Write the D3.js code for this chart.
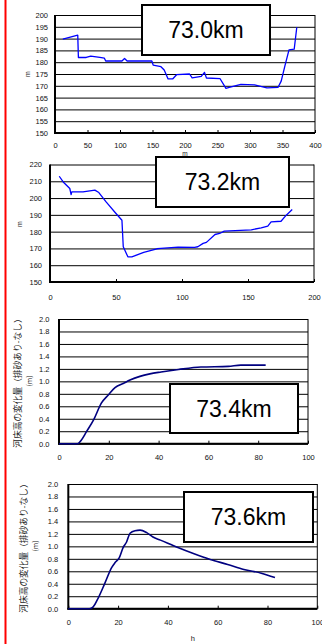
<!DOCTYPE html>
<html>
<head>
<meta charset="utf-8">
<script src="https://cdn.jsdelivr.net/npm/d3@7"></script>
<style>
  html, body { margin: 0; padding: 0; background: #fff; }
  svg { display: block; }
  .tick text { font-family: "Liberation Sans", Arial, sans-serif; font-size: 7.5px; fill: #111; }
</style>
</head>
<body>
<svg id="chart" width="322" height="644"></svg>
<script>
// Cross-section at 73.0 km (distance m, elevation m)
const dist730 = [12, 35, 36, 48, 55, 69, 76, 78, 103, 107, 111, 149, 151, 163, 168, 174, 181, 187, 207, 211, 225, 230, 233, 254, 263, 268, 286, 307, 326, 343, 348, 354, 360, 368, 372];
const elev730 = [189.8, 191.5, 182, 182, 182.6, 182, 181.7, 180.5, 180.5, 181.6, 180.5, 180.5, 178.8, 178.1, 176.7, 172.9, 172.9, 174.7, 175, 173.4, 174, 175.7, 173.3, 173, 168.9, 169.3, 170.6, 170.4, 169.1, 169.3, 172, 178.8, 185.2, 185.5, 194.8];

// Cross-section at 73.2 km
const dist732 = [7, 10, 15, 16, 16.5, 25, 34, 37, 42.5, 50, 54.5, 55.5, 59, 62, 71, 81, 84, 97, 109.5, 112, 116, 118.5, 125, 128.5, 132, 152.5, 160, 165, 167.5, 175, 179, 183.5];
const elev732 = [213, 209.6, 205.7, 202.1, 203.7, 203.7, 204.7, 203.3, 197.7, 190.8, 186.8, 171, 165, 165, 167.6, 169.8, 170, 170.8, 170.6, 171, 173, 173.6, 178.3, 178.9, 180.3, 181.1, 182.3, 183.3, 185.8, 186.2, 189.8, 193.2];

// Bed change (with minus without sediment flushing) over time, 73.4 km
const hours734 = [0, 7.5, 9, 11, 14, 17, 20, 22.5, 26, 28.5, 32.5, 36.5, 41, 48, 57, 68, 73, 83];
const change734 = [0, 0, 0.06, 0.19, 0.39, 0.65, 0.79, 0.90, 0.97, 1.02, 1.08, 1.12, 1.15, 1.19, 1.23, 1.24, 1.26, 1.26];

// Bed change over time, 73.6 km
const hours736 = [0, 8.5, 10, 12, 14.7, 17.4, 18.8, 20.5, 22, 23.4, 24.8, 26.8, 28.8, 31.5, 34, 37, 44, 50.5, 57, 64, 70.5, 77.5, 83];
const change736 = [0, 0, 0.03, 0.17, 0.41, 0.66, 0.74, 0.82, 0.98, 1.07, 1.21, 1.25, 1.26, 1.22, 1.15, 1.10, 0.98, 0.88, 0.79, 0.71, 0.63, 0.57, 0.50];

// Axis ticks
const xTicks730 = [0, 50, 100, 150, 200, 250, 300, 350, 400];
const yTicks730 = [150, 155, 160, 165, 170, 175, 180, 185, 190, 195, 200];
const xTicks732 = [0, 50, 100, 150, 200];
const yTicks732 = [150, 160, 170, 180, 190, 200, 210, 220];
const xTicksHours = [0, 20, 40, 60, 80, 100];
const yTicksChange = [0, 0.2, 0.4, 0.6, 0.8, 1.0, 1.2, 1.4, 1.6, 1.8, 2.0];

// Section labels
const sectionNames = ["73.0km", "73.2km", "73.4km", "73.6km"];
const changeTitle = "河床高の変化量（排砂あり-なし）";

const svg = d3.select("#chart");
const latin = "'Liberation Sans', Arial, sans-serif";
const cjk = "'Noto Sans CJK JP', sans-serif";

// Red margin rule on the left
svg.append("line").attr("x1", 5.5).attr("x2", 5.5).attr("y1", 0).attr("y2", 644)
  .attr("stroke", "#ff0000").attr("stroke-width", 2);

function panel(cfg) {
  const x = d3.scaleLinear().domain([cfg.xTicks[0], cfg.xTicks[cfg.xTicks.length - 1]]).range([cfg.L, cfg.R]);
  const y = d3.scaleLinear().domain([cfg.yTicks[0], cfg.yTicks[cfg.yTicks.length - 1]]).range([cfg.B, cfg.T]);
  const g = svg.append("g");

  // horizontal grid + y labels
  const ya = g.append("g").attr("transform", `translate(${cfg.L},0)`)
    .call(d3.axisLeft(y).tickValues(cfg.yTicks).tickSize(-(cfg.R - cfg.L)).tickPadding(cfg.yPad).tickFormat(cfg.yFmt));
  ya.select(".domain").remove();
  ya.selectAll(".tick line").attr("stroke", "#000").attr("stroke-width", 1);

  // x ticks (pointing up) + labels
  const xa = g.append("g").attr("transform", `translate(0,${cfg.B})`)
    .call(d3.axisBottom(x).tickValues(cfg.xTicks).tickSize(-3).tickPadding(cfg.xPad).tickFormat(d3.format("d")));
  xa.select(".domain").remove();
  xa.selectAll(".tick line").attr("stroke", "#000");
  xa.selectAll(".tick text").attr("dy", "0.71em");

  // frame
  g.append("line").attr("x1", cfg.R).attr("x2", cfg.R).attr("y1", cfg.T).attr("y2", cfg.B).attr("stroke", "#000").attr("stroke-width", 1);
  g.append("line").attr("x1", cfg.L).attr("x2", cfg.L).attr("y1", cfg.T).attr("y2", cfg.B + 1).attr("stroke", "#000").attr("stroke-width", 2);
  g.append("line").attr("x1", cfg.L - 1).attr("x2", cfg.R).attr("y1", cfg.B).attr("y2", cfg.B).attr("stroke", "#000").attr("stroke-width", 2);

  // series
  const pts = cfg.xs.map((v, i) => [v, cfg.ys[i]]);
  g.append("path").datum(pts)
    .attr("fill", "none").attr("stroke", cfg.color).attr("stroke-width", cfg.width)
    .attr("stroke-linejoin", "round")
    .attr("d", d3.line().x(d => x(d[0])).y(d => y(d[1])).curve(cfg.curve || d3.curveLinear));

  // section label box
  const [bx0, by0, bx1, by1] = cfg.box;
  g.append("rect").attr("x", bx0).attr("y", by0).attr("width", bx1 - bx0).attr("height", by1 - by0)
    .attr("fill", "#fff").attr("stroke", "#000").attr("stroke-width", 2);
  g.append("text").attr("x", (bx0 + bx1) / 2).attr("y", (by0 + by1) / 2 + 8.3)
    .attr("text-anchor", "middle").attr("font-family", latin).attr("font-size", 23).attr("fill", "#000")
    .text(cfg.name);

  // axis titles
  (cfg.yTitles || []).forEach(t => {
    g.append("text").attr("transform", `translate(${t.x},${t.y}) rotate(-90)`)
      .attr("text-anchor", "middle").attr("dominant-baseline", "central")
      .attr("font-family", t.font).attr("font-size", t.size).attr("fill", "#222").text(t.text);
  });
  if (cfg.xTitle) {
    g.append("text").attr("x", (cfg.L + cfg.R) / 2).attr("y", cfg.xTitle.y)
      .attr("text-anchor", "middle").attr("font-family", latin).attr("font-size", cfg.xTitle.size).attr("fill", "#222")
      .text(cfg.xTitle.text);
  }
}

panel({
  L: 55, R: 315, T: 15, B: 133, xTicks: xTicks730, yTicks: yTicks730,
  yFmt: d3.format("d"), yPad: 7, xPad: 10,
  xs: dist730, ys: elev730, color: "#0000ff", width: 1.3,
  box: [142, 5, 270, 55], name: sectionNames[0],
  yTitles: [{ x: 27, y: 74, text: "m", font: latin, size: 7 }],
  xTitle: { y: 155.5, text: "m", size: 6.5 }
});

panel({
  L: 50, R: 314, T: 164.5, B: 282, xTicks: xTicks732, yTicks: yTicks732,
  yFmt: d3.format("d"), yPad: 8, xPad: 12.4,
  xs: dist732, ys: elev732, color: "#0000ff", width: 1.3,
  box: [156, 157, 289, 207], name: sectionNames[1],
  yTitles: [{ x: 19, y: 224, text: "m", font: latin, size: 7 }]
});

panel({
  L: 59, R: 308, T: 319, B: 443.7, xTicks: xTicksHours, yTicks: yTicksChange,
  yFmt: d3.format(".1f"), yPad: 9.5, xPad: 10.7,
  xs: hours734, ys: change734, color: "#000080", width: 1.6, curve: d3.curveMonotoneX,
  box: [170, 384, 298, 433], name: sectionNames[2],
  yTitles: [
    { x: 17.5, y: 381, text: changeTitle, font: cjk, size: 8.7 },
    { x: 29, y: 381, text: "(m)", font: cjk, size: 7 }
  ]
});

panel({
  L: 68.3, R: 317.3, T: 484, B: 608.7, xTicks: xTicksHours, yTicks: yTicksChange,
  yFmt: d3.format(".1f"), yPad: 10, xPad: 10.7,
  xs: hours736, ys: change736, color: "#000080", width: 1.6, curve: d3.curveMonotoneX,
  box: [184, 492, 313, 542], name: sectionNames[3],
  yTitles: [
    { x: 23.5, y: 546, text: changeTitle, font: cjk, size: 8.7 },
    { x: 34.5, y: 546, text: "(m)", font: cjk, size: 7 }
  ],
  xTitle: { y: 640.5, text: "h", size: 7.5 }
});
</script>
</body>
</html>
